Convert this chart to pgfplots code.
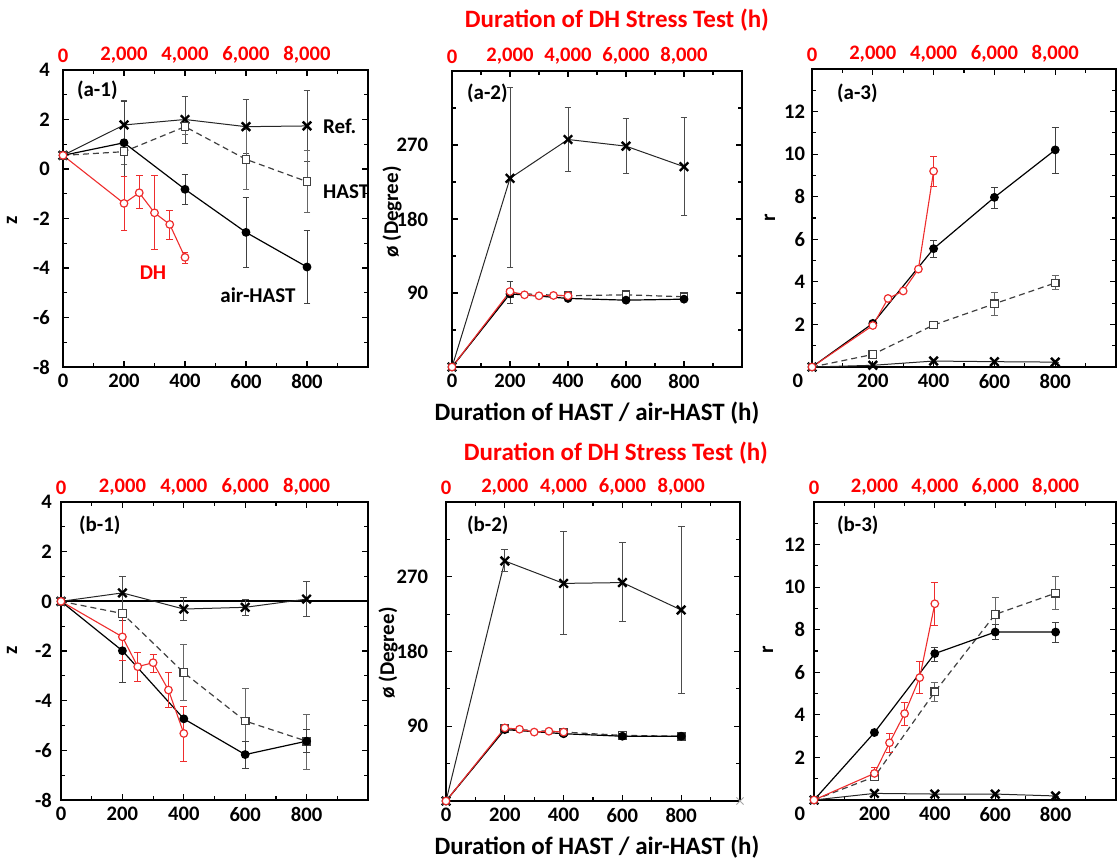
\documentclass[border=0pt]{standalone}
\usepackage{pgfplots}
\pgfplotsset{compat=1.18}
\usepackage{pgfplotstable}
\usepackage{fontspec}
\setmainfont{Carlito}
\definecolor{dhred}{RGB}{238,45,45}
\definecolor{tred}{RGB}{255,0,0}
\newcommand{\tl}{\fontsize{10.3}{12}\selectfont\bfseries}
\newcommand{\an}{\fontsize{10.5}{12}\selectfont\bfseries}
\newcommand{\ti}{\fontsize{12.5}{14}\selectfont\bfseries}

% ---------- (a-1) z ----------
\pgfplotstableread{
x y ep em
0 0.55 0 0
200 1.78 1.0 1.0
400 2.0 0.95 0.95
600 1.71 1.1 1.1
800 1.74 1.45 1.45
}\aAref
\pgfplotstableread{
x y ep em
0 0.55 0 0
200 0.70 0.5 0.5
400 1.71 0.3 0.3
600 0.39 1.2 1.2
800 -0.51 1.26 1.26
}\aAhast
\pgfplotstableread{
x y ep em
0 0.55 0 0
200 1.06 1.65 1.35
400 -0.82 0.58 0.6
600 -2.56 1.41 1.42
800 -3.96 1.47 1.47
}\aAair
\pgfplotstableread{
x y ep em
0 0.55 0 0
200 -1.39 1.08 1.1
250 -0.96 0.68 0.63
300 -1.77 1.49 1.48
350 -2.24 0.56 0.6
400 -3.57 0.19 0.24
}\aAdh
% ---------- (a-2) phi ----------
\pgfplotstableread{
x y ep em
0 0 0 0
200 229.5 110 109
400 276.7 39.3 39.1
600 268.6 34.2 33.8
800 243.6 60.4 59.6
}\aBref
\pgfplotstableread{
x y ep em
0 0 0 0
200 89.8 0 0
400 86.6 0 0
600 87.8 0 0
800 85.4 0 0
}\aBhast
\pgfplotstableread{
x y ep em
0 0 0 0
200 89 15 12
400 83.4 0 0
600 81.3 0 0
800 82.5 0 0
}\aBair
\pgfplotstableread{
x y ep em
0 0 0 0
200 91.8 0 0
250 87.8 0 0
300 86.6 0 0
350 87 0 0
400 86.6 0 0
}\aBdh
% ---------- (a-3) r ----------
\pgfplotstableread{
x y ep em
0 0 0 0
200 0.08 0 0
400 0.28 0 0
600 0.25 0 0
800 0.23 0 0
}\aCref
\pgfplotstableread{
x y ep em
0 0 0 0
200 0.59 0 0
400 1.97 0 0
600 2.97 0.55 0.55
800 3.95 0.33 0.33
}\aChast
\pgfplotstableread{
x y ep em
0 0 0 0
200 2.05 0 0
400 5.56 0.38 0.43
600 7.97 0.47 0.5
800 10.2 1.07 1.09
}\aCair
\pgfplotstableread{
x y ep em
0 0 0 0
200 1.95 0 0
250 3.22 0 0
300 3.57 0 0
350 4.6 0 0
400 9.2 0.7 0.7
}\aCdh
% ---------- (b-1) z ----------
\pgfplotstableread{
x y ep em
0 0 0 0
200 0.34 0.67 0.67
400 -0.31 0.47 0.47
600 -0.24 0.33 0.33
800 0.09 0.7 0.7
}\bAref
\pgfplotstableread{
x y ep em
0 0 0 0
200 -0.49 0 0
400 -2.87 1.14 1.11
600 -4.82 1.3 1.28
800 -5.63 1.07 1.12
}\bAhast
\pgfplotstableread{
x y ep em
0 0 0 0
200 -1.99 1.21 1.28
400 -4.73 0 0
600 -6.17 0.54 0.54
800 -5.63 0.47 0.47
}\bAair
\pgfplotstableread{
x y ep em
0 0 0 0
200 -1.43 0.92 0.93
250 -2.63 0.57 0.58
300 -2.47 0.34 0.4
350 -3.57 0.7 0.72
400 -5.32 1.1 1.12
}\bAdh
% ---------- (b-2) phi ----------
\pgfplotstableread{
x y ep em
0 0 0 0
200 289 14 13
400 262 62 62
600 263 48 47
800 230 101 101
}\bBref
\pgfplotstableread{
x y ep em
0 0 0 0
200 87 0 0
400 83 0 0
600 79 0 0
800 78 0 0
}\bBhast
\pgfplotstableread{
x y ep em
0 0 0 0
200 86 0 0
400 81 0 0
600 78 0 0
800 78 0 0
}\bBair
\pgfplotstableread{
x y ep em
0 0 0 0
200 88 0 0
250 86.4 0 0
300 83 0 0
350 84 0 0
400 83 0 0
}\bBdh
% ---------- (b-3) r ----------
\pgfplotstableread{
x y ep em
0 0 0 0
200 0.31 0 0
400 0.28 0 0
600 0.28 0 0
800 0.19 0 0
}\bCref
\pgfplotstableread{
x y ep em
0 0 0 0
200 1.09 0 0
400 5.08 0.42 0.47
600 8.72 0.78 0.78
800 9.72 0.78 0.78
}\bChast
\pgfplotstableread{
x y ep em
0 0 0 0
200 3.17 0 0
400 6.88 0.31 0.35
600 7.89 0.36 0.36
800 7.89 0.47 0.47
}\bCair
\pgfplotstableread{
x y ep em
0 0 0 0
200 1.25 0.28 0.23
250 2.69 0.44 0.47
300 4.06 0.52 0.54
350 5.75 0.78 0.75
400 9.22 1.01 1.02
}\bCdh

\pgfplotsset{
  table/x=x, table/y=y, table/y error plus=ep, table/y error minus=em,
  eb/.style={error bars/y dir=both, error bars/y explicit,
    error bars/error bar style={solid, line width=0.45pt, #1},
    error bars/error mark options={rotate=90, solid, line width=0.45pt, mark size=1.7pt, #1}},
  sref/.style={black!85, line width=0.5pt, mark=x, mark size=3pt,
    mark options={solid, line width=1.2pt, black}, eb=black!70},
  shast/.style={black!75, line width=0.6pt, densely dashed, mark=square*, mark size=1.9pt,
    mark options={solid, fill=white, draw=black!75, line width=0.6pt}, eb=black!60},
  sair/.style={black, line width=0.6pt, mark=*, mark size=1.9pt,
    mark options={solid, fill=black}, eb=black!75},
  sdh/.style={dhred, line width=0.55pt, mark=*, mark size=1.9pt,
    mark options={solid, fill=white, draw=dhred, line width=0.6pt}, eb=dhred},
  panel/.style={scale only axis, anchor=south west, xmin=0, xmax=1000,
    xtick={0,200,400,600,800}, xticklabels={0,200,400,600,800},
    minor xtick={100,300,500,700,900},
    tick align=inside, major tick length=3pt, minor tick length=2pt,
    axis line style={line width=1pt}, tick style={black, line width=0.6pt},
    tick label style={font=\tl}},
  zpanel/.style={panel, ymin=-8, ymax=4, ytick={-8,-6,-4,-2,0,2,4},
    yticklabels={-8,-6,-4,-2,0,2,4}, minor ytick={-7,-5,-3,-1,1,3}},
  ppanel/.style={panel, ymin=0, ymax=360, ytick={90,180,270},
    yticklabels={90,180,270}, minor ytick={45,135,225,315}},
  rpanel/.style={panel, ymin=0, ymax=14, ytick={2,4,6,8,10,12},
    yticklabels={2,4,6,8,10,12}, minor ytick={1,3,5,7,9,11,13},
    xticklabels={{\makebox[0pt][r]{0\hspace{4.5pt}}},200,400,600,800}},
  toppanel/.style={scale only axis, anchor=south west, xmin=0, xmax=1000, ymin=0, ymax=1,
    axis x line*=top, axis y line=none, xtick={0,200,400,600,800},
    xticklabels={0,{2,000},{4,000},{6,000},{8,000}}, major tick length=0pt,
    axis line style={draw=none}, xticklabel style={tred, font=\tl}},
}

\begin{document}
\begin{tikzpicture}
\path[use as bounding box] (0,0) rectangle (558.5pt,-430.5pt);

% ===== (a-1) =====
\begin{axis}[zpanel, at={(31.5pt,-183.5pt)}, width=152.5pt, height=148.5pt, yticklabel style={xshift=-3pt}]
\addplot[sref] table {\aAref};
\addplot[shast] table {\aAhast};
\addplot[sair] table {\aAair};
\addplot[sdh] table {\aAdh};
\end{axis}
\begin{axis}[toppanel, at={(31.5pt,-183.5pt)}, width=152.5pt, height=148.5pt]
\addplot[draw=none] coordinates {(0,0)};
\end{axis}

% ===== (a-2) =====
\begin{axis}[ppanel, at={(226pt,-183.5pt)}, width=145pt, height=148pt, yticklabel style={xshift=-8.5pt}]
\addplot[sref] table {\aBref};
\addplot[shast] table {\aBhast};
\addplot[sair] table {\aBair};
\addplot[sdh] table {\aBdh};
\end{axis}
\begin{axis}[toppanel, at={(226pt,-183.5pt)}, width=145pt, height=148pt]
\addplot[draw=none] coordinates {(0,0)};
\end{axis}

% ===== (a-3) =====
\begin{axis}[rpanel, at={(406pt,-183.5pt)}, width=152pt, height=149pt]
\addplot[sref] table {\aCref};
\addplot[shast] table {\aChast};
\addplot[sair] table {\aCair};
\addplot[sdh] table {\aCdh};
\end{axis}
\begin{axis}[toppanel, at={(406pt,-183.5pt)}, width=152pt, height=149pt]
\addplot[draw=none] coordinates {(0,0)};
\end{axis}

% ===== (b-1) =====
\begin{axis}[zpanel, at={(30.5pt,-400pt)}, width=153.5pt, height=149pt, yticklabel style={xshift=-1pt}]
\addplot[black, line width=0.9pt, no marks] coordinates {(0,0) (1000,0)};
\addplot[sref] table {\bAref};
\addplot[shast] table {\bAhast};
\addplot[sair] table {\bAair};
\addplot[sdh] table {\bAdh};
\end{axis}
\begin{axis}[toppanel, at={(30.5pt,-400pt)}, width=153.5pt, height=149pt]
\addplot[draw=none] coordinates {(0,0)};
\end{axis}

% ===== (b-2) =====
\begin{axis}[ppanel, at={(223pt,-400.5pt)}, width=147pt, height=149.5pt, yticklabel style={xshift=-5.5pt}]
\addplot[sref] table {\bBref};
\addplot[shast] table {\bBhast};
\addplot[sair] table {\bBair};
\addplot[sdh] table {\bBdh};
\addplot[only marks, mark=x, mark size=2.5pt, black!35] coordinates {(1000,0)};
\end{axis}
\begin{axis}[toppanel, at={(223pt,-400.5pt)}, width=147pt, height=149.5pt]
\addplot[draw=none] coordinates {(0,0)};
\end{axis}

% ===== (b-3) =====
\begin{axis}[rpanel, at={(407pt,-400pt)}, width=151pt, height=149pt, yticklabel style={xshift=-1pt}]
\addplot[sref] table {\bCref};
\addplot[shast] table {\bChast};
\addplot[sair] table {\bCair};
\addplot[sdh] table {\bCdh};
\end{axis}
\begin{axis}[toppanel, at={(407pt,-400pt)}, width=151pt, height=149pt]
\addplot[draw=none] coordinates {(0,0)};
\end{axis}

% ===== texts =====
\node[font=\ti, text=tred] at (308.5pt,-10pt) {Duration of DH Stress Test (h)};
\node[font=\ti] at (298.5pt,-206.5pt) {Duration of HAST / air-HAST (h)};
\node[font=\ti, text=tred] at (308pt,-226.5pt) {Duration of DH Stress Test (h)};
\node[font=\ti] at (298.5pt,-423.5pt) {Duration of HAST / air-HAST (h)};

\node[font=\an, rotate=90] at (6pt,-110pt) {z};
\node[font=\an, rotate=90] at (6pt,-325pt) {z};
\node[font=\an, rotate=90] at (196pt,-106pt) {ø (Degree)};
\node[font=\an, rotate=90] at (194pt,-326.5pt) {ø (Degree)};
\node[font=\an, rotate=90] at (385pt,-109pt) {r};
\node[font=\an, rotate=90] at (384pt,-325pt) {r};

\node[font=\an, anchor=west] at (35pt,-45pt) {(a-1)};
\node[font=\an, anchor=west] at (230pt,-46.5pt) {(a-2)};
\node[font=\an, anchor=west] at (415pt,-46.5pt) {(a-3)};
\node[font=\an, anchor=west] at (36pt,-262.5pt) {(b-1)};
\node[font=\an, anchor=west] at (230pt,-262.5pt) {(b-2)};
\node[font=\an, anchor=west] at (415pt,-262.5pt) {(b-3)};

\node[font=\an, anchor=west] at (158pt,-63pt) {Ref.};
\node[font=\an, anchor=west] at (158pt,-96pt) {HAST};
\node[font=\an, text=tred] at (76.5pt,-136.5pt) {DH};
\node[font=\an] at (129pt,-147.5pt) {air-HAST};
\end{tikzpicture}
\end{document}
